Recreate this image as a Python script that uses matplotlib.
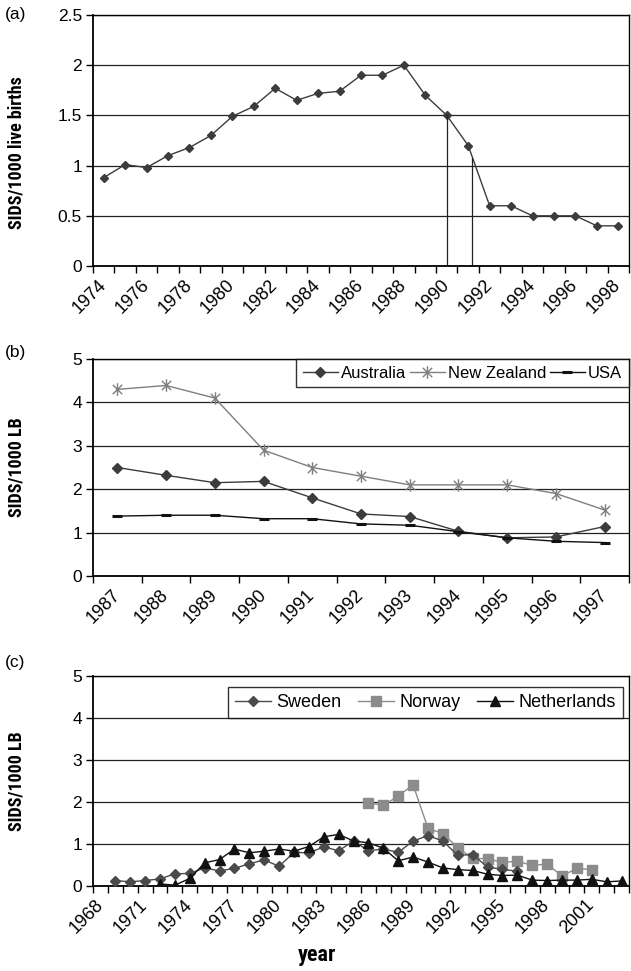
import numpy as np
import matplotlib
matplotlib.use("Agg")
import matplotlib.pyplot as plt
from matplotlib.path import Path
from matplotlib import font_manager
from matplotlib.font_manager import FontProperties
from matplotlib.transforms import ScaledTranslation

# ---------------- data ----------------
years_a = list(range(1974, 1999))
sids_a = [0.88, 1.01, 0.98, 1.10, 1.18, 1.30, 1.49, 1.59, 1.77, 1.65, 1.72, 1.74,
          1.90, 1.90, 2.00, 1.70, 1.50, 1.20, 0.60, 0.60, 0.50, 0.50, 0.50, 0.40, 0.40]
cutoff_years_a = [1990.0, 1991.2]

years_b = list(range(1987, 1998))
australia = [2.50, 2.32, 2.15, 2.18, 1.80, 1.43, 1.37, 1.03, 0.88, 0.90, 1.14]
new_zealand = [4.30, 4.39, 4.10, 2.90, 2.50, 2.30, 2.10, 2.10, 2.10, 1.90, 1.52]
usa = [1.38, 1.40, 1.40, 1.32, 1.32, 1.20, 1.17, 1.02, 0.88, 0.80, 0.77]

years_c = list(range(1968, 2004))
sweden_years = list(range(1969, 1997))
sweden = [0.13, 0.10, 0.13, 0.17, 0.29, 0.30, 0.43, 0.36, 0.42, 0.53, 0.62, 0.47,
          0.80, 0.79, 0.93, 0.84, 1.07, 0.84, 0.88, 0.80, 1.07, 1.20, 1.07, 0.73,
          0.75, 0.45, 0.40, 0.35]
norway_years = list(range(1986, 2002))
norway = [1.98, 1.92, 2.14, 2.41, 1.37, 1.25, 0.91, 0.66, 0.65, 0.56, 0.59, 0.49,
          0.52, 0.24, 0.42, 0.39]
nl_years = list(range(1972, 2004))
netherlands = [0.05, 0.02, 0.18, 0.55, 0.63, 0.88, 0.79, 0.83, 0.88, 0.83, 0.94,
               1.17, 1.23, 1.07, 1.03, 0.90, 0.60, 0.69, 0.57, 0.43, 0.39, 0.37,
               0.28, 0.25, 0.26, 0.14, 0.13, 0.14, 0.14, 0.16, 0.10, 0.12]

# ---------------- fonts ----------------
avail = {f.name for f in font_manager.fontManager.ttflist}
BASE = 'Liberation Sans' if 'Liberation Sans' in avail else 'DejaVu Sans'
plt.rcParams['font.family'] = [BASE, 'DejaVu Sans']

narrow_path = None
for f in font_manager.fontManager.ttflist:
    fn = f.fname.lower().replace('-', '').replace('_', '')
    if ('liberationsansnarrowbold.' in fn or 'arialnarrowbold' in fn
            or 'robotocondensedbold.' in fn):
        narrow_path = f.fname
        break
if narrow_path:
    def bold_label_fp(size):
        return FontProperties(fname=narrow_path, size=size)
    YL_SIZE = 13
else:
    def bold_label_fp(size):
        return FontProperties(family=BASE, weight='bold', size=size)
    YL_SIZE = 10.5

W, H = 631, 971
fig = plt.figure(figsize=(W / 100, H / 100), dpi=100)
shift = ScaledTranslation(-7 / 100, -2 / 100, fig.dpi_scale_trans)


def add_ax(top, bottom, left=93, right=629):
    return fig.add_axes([left / W, 1 - bottom / H, (right - left) / W, (bottom - top) / H])


def style_axis(ax, n_cat, ymax, ystep, label_every, first_year, ylabel):
    ax.set_xlim(0, n_cat)
    ax.set_ylim(0, ymax)
    yt = np.arange(0, ymax + 1e-9, ystep)
    ax.set_yticks(yt)
    ax.set_yticklabels(['%g' % v for v in yt], fontsize=12.5)
    ax.yaxis.grid(True, color='#222222', lw=0.9)
    ax.set_axisbelow(True)
    ax.set_xticks(np.arange(0, n_cat + 1))
    ax.set_xticklabels([])
    centres = np.arange(0, n_cat, label_every) + 0.5
    ax.set_xticks(centres, minor=True)
    ax.set_xticklabels([str(first_year + int(c - 0.5)) for c in centres], minor=True,
                       rotation=45, ha='right', va='center', rotation_mode='anchor',
                       fontsize=13)
    for lab in ax.get_xticklabels(minor=True):
        lab.set_transform(lab.get_transform() + shift)
    ax.tick_params(axis='x', which='major', direction='out', length=5, width=1, color='black')
    ax.tick_params(axis='x', which='minor', length=0, pad=12)
    ax.tick_params(axis='y', direction='out', length=5, width=1, pad=3)
    for s in ax.spines.values():
        s.set_color('black')
        s.set_linewidth(1.0)
    ax.spines['left'].set_linewidth(1.3)
    ax.spines['bottom'].set_linewidth(1.3)
    ax.set_ylabel(ylabel, fontproperties=bold_label_fp(YL_SIZE))


def excel_legend(ax, anchor_px, fs, hl, tp, cs):
    lg = ax.legend(loc='upper right', bbox_to_anchor=(anchor_px[0] / W, 1 - anchor_px[1] / H),
                   bbox_transform=fig.transFigure, ncol=3, fontsize=fs, frameon=True,
                   fancybox=False, borderaxespad=0, handlelength=hl, handletextpad=tp,
                   columnspacing=cs, borderpad=0.4)
    lg.get_frame().set_edgecolor('black')
    lg.get_frame().set_linewidth(1.0)
    return lg


# ---------------- panel (a) ----------------
axa = add_ax(15, 266)
xa = np.arange(len(years_a)) + 0.5
axa.plot(xa, sids_a, color='#3c3c3c', lw=1.0, marker='D', ms=4.2, mfc='#3c3c3c', mec='#3c3c3c')
for cy in cutoff_years_a:
    xc = cy - years_a[0] + 0.5
    yc = np.interp(xc, xa, sids_a)
    axa.plot([xc, xc], [0, yc], color='#222222', lw=0.9)
style_axis(axa, len(years_a), 2.5, 0.5, 2, years_a[0], 'SIDS/1000 live births')
axa.yaxis.set_label_coords(-0.125, 0.45)

# ---------------- panel (b) ----------------
axb = add_ax(359, 576)
xb = np.arange(len(years_b)) + 0.5
ast = Path([(0, -1), (0, 1), (-0.75, -0.75), (0.75, 0.75), (-0.75, 0.75), (0.75, -0.75)],
           [Path.MOVETO, Path.LINETO, Path.MOVETO, Path.LINETO, Path.MOVETO, Path.LINETO])
axb.plot(xb, australia, color='#3c3c3c', lw=1.0, marker='D', ms=5, label='Australia')
axb.plot(xb, new_zealand, color='#7f7f7f', lw=1.0, marker=ast, ms=9, mew=1.0,
         mec='#7f7f7f', label='New Zealand')
axb.plot(xb, usa, color='#111111', lw=1.0, marker='_', ms=7, mew=2.2, label='USA')
style_axis(axb, len(years_b), 5, 1, 1, years_b[0], 'SIDS/1000 LB')
axb.yaxis.set_label_coords(-0.125, 0.5)
excel_legend(axb, (629, 359), 12, 2.1, 0.2, 0.2)

# ---------------- panel (c) ----------------
axc = add_ax(676, 886)
xs = np.array([y - years_c[0] for y in sweden_years]) + 0.5
xn = np.array([y - years_c[0] for y in norway_years]) + 0.5
xl = np.array([y - years_c[0] for y in nl_years]) + 0.5
axc.plot(xs, sweden, color='#4a4a4a', lw=1.0, marker='D', ms=5.5, label='Sweden', zorder=3)
axc.plot(xn, norway, color='#8c8c8c', lw=1.0, marker='s', ms=6.5, label='Norway', zorder=2)
axc.plot(xl, netherlands, color='#111111', lw=1.0, marker='^', ms=7.5, label='Netherlands', zorder=4)
style_axis(axc, len(years_c), 5, 1, 3, years_c[0], 'SIDS/1000 LB')
axc.yaxis.set_label_coords(-0.125, 0.5)
excel_legend(axc, (623, 687), 13, 2.0, 0.3, 0.9)

# panel letters and axis title
fig.text(5 / W, 1 - 15 / H, '(a)', fontsize=12.5, va='center', ha='left')
fig.text(5 / W, 1 - 352 / H, '(b)', fontsize=12.5, va='center', ha='left')
fig.text(5 / W, 1 - 662 / H, '(c)', fontsize=12.5, va='center', ha='left')
fig.text(317 / W, 1 - 955 / H, 'year', ha='center', va='center',
         fontproperties=bold_label_fp(16 if narrow_path else 14))

fig.savefig('out.png', dpi=100)
